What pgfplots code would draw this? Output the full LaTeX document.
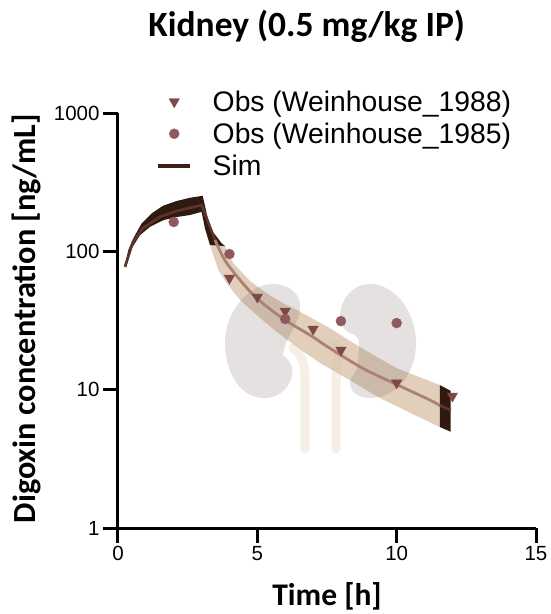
\documentclass[border=0pt]{standalone}
\usepackage{pgfplots}
\pgfplotsset{compat=1.18}
\usepackage{fontspec}
\setmainfont{Liberation Sans}
\newfontfamily\calib{Carlito}
\definecolor{darkband}{HTML}{2E1A0E}
\definecolor{lightband}{HTML}{E1CFBC}
\definecolor{simdark}{HTML}{60322D}
\definecolor{simlight}{HTML}{AD8076}
\definecolor{tri}{HTML}{7D4A42}
\definecolor{circ}{HTML}{8F5A5F}
\definecolor{kidney}{HTML}{6F5F5C}
\definecolor{ureter}{HTML}{D7C09B}
\pgfplotsset{kidneybase/.style={
  scale only axis, width=418pt, height=415pt,
  at={(118pt,-528pt)}, anchor=south west,
  xmin=0, xmax=15, ymin=1, ymax=1000, clip=false}}
\begin{document}
\begin{tikzpicture}
\path (0pt,0pt) rectangle (549pt,-614pt);
% uncertainty bands
\begin{semilogyaxis}[kidneybase, hide axis]
\addplot[draw=none, fill=lightband, forget plot] coordinates {
 (3.30,111)(3.84,109.2)(4.14,82)(4.74,61)(5.34,49.7)(5.93,42.1)(6.53,36.6)(7.61,27.8)(8.21,23.2)(9.10,18.1)(10.0,14.3)(11.55,10.8)
 (11.55,5.37)(10.58,6.66)(9.40,8.7)(8.32,11.7)(7.25,15.6)(6.53,19.6)(5.69,26.2)(4.98,34.6)(4.38,44.5)(3.90,58.7)(3.60,73.3)};
\addplot[draw=none, fill=darkband, forget plot] coordinates {
 (0.25,79.6)(0.37,102.2)(0.55,124.2)(0.85,159.4)(1.21,188.3)(1.62,213.7)(2.10,231)(2.58,244)(3.04,252)(3.30,147.4)(3.72,114.3)(3.84,109.2)
 (3.30,111)(3.12,146.7)(3.0,193)(2.58,183)(2.10,177)(1.63,168)(1.15,150.6)(0.79,131)(0.49,105)(0.29,76.1)};
\addplot[draw=none, fill=darkband, forget plot] coordinates {
 (11.55,10.8)(11.94,9.8)(11.94,4.96)(11.55,5.37)};
\end{semilogyaxis}
% kidney illustration
\begin{scope}[x=1pt,y=-1pt]
\fill[fill=kidney, fill opacity=0.19]
 (273,284) .. controls (290,284) and (302,295) .. (300,310)
 .. controls (298,325) and (284,340) .. (283,355)
 .. controls (290,360) and (294,368) .. (292,376)
 .. controls (288,392) and (275,399) .. (262,398)
 .. controls (238,396) and (225,370) .. (225,343)
 .. controls (225,310) and (250,284) .. (273,284) -- cycle;
\fill[fill=kidney, fill opacity=0.19]
 (370,284) .. controls (395,284) and (416,312) .. (416,343)
 .. controls (416,375) and (395,398) .. (370,398)
 .. controls (358,398) and (350,392) .. (350,383)
 .. controls (351,374) and (358,372) .. (358,365)
 .. controls (358,352) and (362,340) .. (355,335)
 .. controls (345,332) and (340,325) .. (340,317)
 .. controls (340,300) and (352,284) .. (370,284) -- cycle;
\draw[line width=9pt, line cap=round, color=ureter, draw opacity=0.25]
 (293,348) .. controls (303,355) and (305,365) .. (305,380) -- (305,449);
\draw[line width=9pt, line cap=round, color=ureter, draw opacity=0.25]
 (333,342) .. controls (342,345) and (336,365) .. (336,380) -- (336,449);
\end{scope}
% main axes
\begin{semilogyaxis}[kidneybase,
  axis lines=left, axis line style={line width=3pt, -},
  tick style={line width=3pt, black}, tick align=outside,
  major tick length=15pt, minor tick length=0pt,
  xtick={0,5,10,15}, ytick={1,10,100,1000}, yticklabels={1,10,100,1000},
  minor ytick={}, ticklabel style={font=\fontsize{20.5}{22}\selectfont},
  /pgf/number format/assume math mode=true,
  title={\calib\bfseries Kidney (0.5 mg/kg IP)},
  title style={font=\fontsize{35.5}{38}\selectfont, at={(axis description cs:0.4515,1.0)}, anchor=center, yshift=81pt},
  xlabel={\calib\bfseries Time [h]},
  xlabel style={font=\fontsize{31.5}{34}\selectfont, at={(axis description cs:0.5,0)}, anchor=center, yshift=-68pt},
  ylabel={\calib\bfseries Digoxin concentration [ng/mL]},
  ylabel style={font=\fontsize{32.3}{36}\selectfont, at={(axis description cs:0,0.5)}, anchor=center, yshift=92pt, xshift=2pt},
  legend cell align=left,
  legend style={at={(rel axis cs:0.091,1.059)}, anchor=north west, draw=none, fill=none,
    font=\fontsize{28.3}{30}\selectfont, row sep=6pt, inner sep=0pt,
    /tikz/every odd column/.append style={column sep=18.5pt}},
  legend image code/.code={\draw[mark repeat=2,mark phase=2,#1] plot coordinates {(0pt,0pt)(16pt,0pt)(32pt,0pt)};},
]
\addplot[simdark, line width=2.6pt, forget plot] coordinates {
 (0.25,77.4)(0.54,117.3)(0.90,147.4)(1.51,178)(2.10,195.6)(3.0,216)(3.18,174)(3.48,120.7)};
\addplot[simlight, line width=2.8pt, smooth, tension=0.5, forget plot] coordinates {
 (3.48,120.7)(3.84,86)(4.38,62)(4.98,45.8)(5.93,32.5)(6.89,24.8)(7.61,19.9)(8.80,14.2)(10.0,10.9)(11.2,8.4)(11.55,7.7)};
\addplot[simdark, line width=2.8pt, forget plot] coordinates {(11.55,7.7)(11.94,7.1)};
\addplot[only marks, mark=triangle*, mark size=6pt, mark options={rotate=180, fill=tri, draw=none}, color=tri]
 coordinates {(4,64)(5,46.7)(6,37)(7,27.4)(8,19.3)(10,11.2)(12,9.0)};
\addlegendentry{Obs (Weinhouse\_1988)}
\addplot[only marks, mark=*, mark size=5pt, mark options={fill=circ, draw=none}, color=circ]
 coordinates {(2,163)(4,95.6)(6,32.4)(8,31.3)(10,30.3)};
\addlegendentry{Obs (Weinhouse\_1985)}
\addlegendimage{color=darkband!75!simdark, line width=4pt}
\addlegendentry{Sim}
\end{semilogyaxis}
\end{tikzpicture}
\end{document}
